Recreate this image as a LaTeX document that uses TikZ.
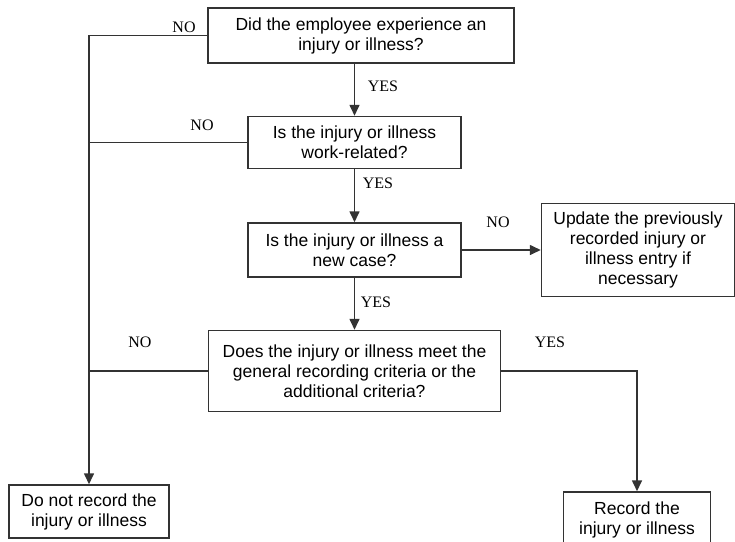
\documentclass[tikz,border=0pt]{standalone}
\usepackage{fontspec}
\setmainfont{Liberation Sans}
\newfontfamily\labelfont{Liberation Serif}
\usetikzlibrary{positioning, arrows.meta}

\begin{document}
\begin{tikzpicture}[
    x=1pt, y=-1pt,
    node distance=52pt and 79pt,
    font=\fontsize{17.5}{20}\selectfont,
    % Define styles for consistent blocks
    question/.style={rectangle, draw=black!80, line width=1.5pt, fill=white, align=center, inner sep=2pt},
    outcome/.style={rectangle, draw=black!80, line width=1.5pt, fill=white, align=center, inner sep=2pt},
    answer/.style={font=\labelfont\fontsize{16}{18}\selectfont, inner sep=0pt},
    line/.style={draw=black!80, line width=1.6pt},
    arrow/.style={line, -{Triangle[length=11pt, width=10pt]}}
]
\useasboundingbox (0,0) rectangle (735,541);

% --- Nodes ---

% Questions
\node[question, minimum width=306pt, minimum height=55pt] (q1) at (361,35.5) {Did the employee experience an\\injury or illness?};
\node[question, minimum width=213pt, minimum height=52pt, below=52pt of q1, xshift=-6.5pt] (q2) {Is the injury or illness\\work-related?};
\node[question, minimum width=213pt, minimum height=54pt, below=53pt of q2] (q3) {Is the injury or illness a\\new case?};
\node[question, minimum width=292pt, minimum height=81pt, below=52pt of q3] (q4) {Does the injury or illness meet the\\general recording criteria or the\\additional criteria?};

% Outcomes
\node[outcome, minimum width=193pt, minimum height=93pt, right=79pt of q3] (upd) {Update the previously\\recorded injury or\\illness entry if\\necessary};
\node[outcome, minimum width=160pt, minimum height=53pt] (norec) at (89,511.5) {Do not record the\\injury or illness};
\node[outcome, minimum width=147pt, minimum height=56pt] (rec) at (637,520) {Record the\\injury or illness};

% Answers
\node[answer] (no1) at (184,27) {NO};
\node[answer] (yes1) at (383,86) {YES};
\node[answer] (no2) at (202,125) {NO};
\node[answer] (yes2) at (378,183) {YES};
\node[answer] (no3) at (498,222) {NO};
\node[answer] (yes3) at (376,302) {YES};
\node[answer] (no4) at (140,342) {NO};
\node[answer] (yes4) at (550,342) {YES};

% --- Routing Arrows ---

% Main flow
\draw[arrow] (q1.south -| q2.north) -- (q2.north);
\draw[arrow] (q2.south) -- (q3.north);
\draw[arrow] (q3.south) -- (q4.north);
\draw[arrow] (q3.east) -- (upd.west);
\draw[arrow] (q4.east) -| (rec.north);

% NO branches
\draw[arrow] (q1.west) -| (norec.north);
\draw[line] (q2.west) -- (q2.west -| norec.north);
\draw[line] (q4.west) -- (q4.west -| norec.north);

\end{tikzpicture}
\end{document}
